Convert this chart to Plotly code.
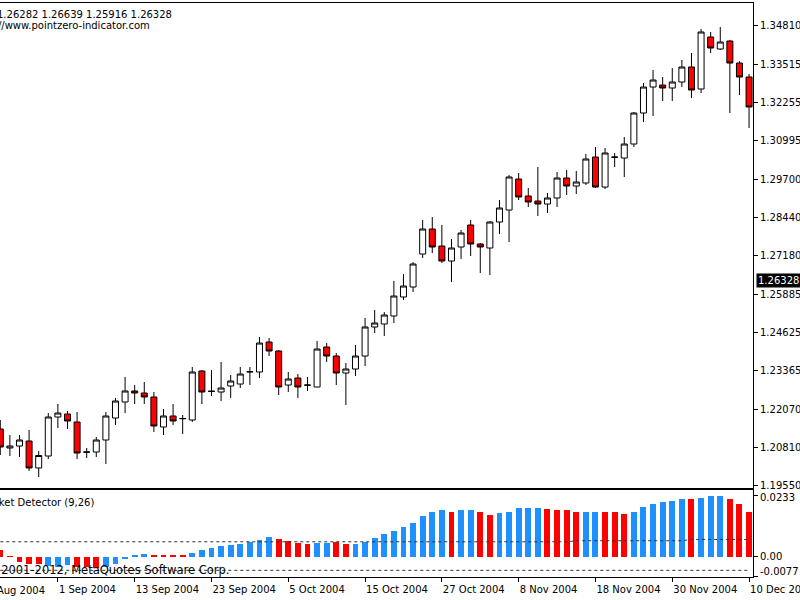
import plotly.graph_objects as go

# ---------------- data ----------------
bar_index = list(range(79))

opens = [1.21409, 1.20779, 1.20845, 1.21011, 1.20116, 1.20513, 1.21807, 1.21906, 1.21642, 1.20650,
         1.20646, 1.21044, 1.21774, 1.22305, 1.22670, 1.22603, 1.22471, 1.21476, 1.21840, 1.21758,
         1.21708, 1.23333, 1.22670, 1.22636, 1.22835, 1.22901, 1.23300, 1.23300, 1.24295, 1.23996,
         1.22868, 1.23101, 1.22860, 1.22802, 1.24129, 1.23830, 1.23266, 1.23399, 1.23830, 1.24793,
         1.24892, 1.25157, 1.25788, 1.26119, 1.27213, 1.28043, 1.27479, 1.26982, 1.27446, 1.28176,
         1.27546, 1.27413, 1.28275, 1.28673, 1.29702, 1.29138, 1.28972, 1.28872, 1.29072, 1.29735,
         1.29469, 1.29569, 1.30431, 1.29436, 1.30431, 1.30398, 1.30863, 1.31891, 1.32753, 1.32819,
         1.32720, 1.32919, 1.33417, 1.32687, 1.34412, 1.34014, 1.34279, 1.33549, 1.33085]
highs = [1.21708, 1.21210, 1.21210, 1.21376, 1.20679, 1.21939, 1.22238, 1.22006, 1.21973, 1.20779,
         1.21144, 1.21973, 1.22438, 1.23134, 1.22868, 1.22968, 1.22636, 1.22072, 1.22238, 1.21873,
         1.23466, 1.23366, 1.23366, 1.23632, 1.23200, 1.23466, 1.23466, 1.24461, 1.24428, 1.24029,
         1.23300, 1.23233, 1.23134, 1.24328, 1.24261, 1.23929, 1.23598, 1.24195, 1.25091, 1.25356,
         1.25290, 1.26318, 1.26550, 1.26948, 1.28342, 1.28441, 1.28176, 1.27711, 1.28010, 1.28342,
         1.27579, 1.28308, 1.29005, 1.29834, 1.29901, 1.29403, 1.30100, 1.29237, 1.29934, 1.30000,
         1.29967, 1.30531, 1.30763, 1.30730, 1.30564, 1.31095, 1.31924, 1.32886, 1.33317, 1.33085,
         1.33383, 1.33649, 1.33881, 1.34677, 1.34578, 1.34743, 1.34312, 1.33616, 1.33184]
lows = [1.20546, 1.20513, 1.20480, 1.20016, 1.19817, 1.20413, 1.21443, 1.21409, 1.20413, 1.20447,
        1.20480, 1.20248, 1.21542, 1.21939, 1.22238, 1.22238, 1.21310, 1.21210, 1.21542, 1.21243,
        1.21642, 1.22238, 1.22504, 1.22338, 1.22438, 1.22769, 1.22868, 1.23101, 1.23830, 1.22537,
        1.22636, 1.22438, 1.22670, 1.22790, 1.23632, 1.22868, 1.22205, 1.23167, 1.23499, 1.24593,
        1.24494, 1.24925, 1.25688, 1.25954, 1.27081, 1.27246, 1.26915, 1.26285, 1.27048, 1.27147,
        1.26584, 1.26517, 1.27877, 1.27612, 1.29005, 1.28773, 1.28474, 1.28574, 1.28773, 1.29171,
        1.29204, 1.29502, 1.29403, 1.29370, 1.30100, 1.29768, 1.30763, 1.31592, 1.31791, 1.32289,
        1.32289, 1.32753, 1.32389, 1.32554, 1.33881, 1.33980, 1.31891, 1.32488, 1.31393]
closes = [1.20812, 1.20845, 1.21044, 1.20116, 1.20530, 1.21807, 1.21939, 1.21675, 1.20612, 1.20640,
          1.21044, 1.21840, 1.22338, 1.22670, 1.22603, 1.22471, 1.21509, 1.21840, 1.21675, 1.21752,
          1.23300, 1.22636, 1.22654, 1.22769, 1.23001, 1.23233, 1.23310, 1.24261, 1.23996, 1.22802,
          1.23067, 1.22802, 1.22868, 1.24062, 1.23830, 1.23266, 1.23399, 1.23830, 1.24793, 1.24925,
          1.25190, 1.25821, 1.26152, 1.26882, 1.28043, 1.27446, 1.26982, 1.27413, 1.27910, 1.27546,
          1.27446, 1.28275, 1.28740, 1.29768, 1.29105, 1.28939, 1.28872, 1.29072, 1.29735, 1.29469,
          1.29602, 1.30365, 1.29436, 1.30564, 1.30425, 1.30863, 1.31891, 1.32753, 1.32985, 1.32720,
          1.32919, 1.33417, 1.32654, 1.34578, 1.34047, 1.34246, 1.33549, 1.33085, 1.32090]

detector = [0.0024, 0.0002, -0.0020, -0.0029, -0.0029, -0.0036, -0.0038, -0.0033, -0.0038, -0.0038,
            -0.0042, -0.0038, -0.0029, -0.0010, 0.0005, 0.0009, 0.0008, 0.0008, 0.0008, 0.0006,
            0.0013, 0.0025, 0.0034, 0.0041, 0.0045, 0.0050, 0.0056, 0.0065, 0.0074, 0.0069,
            0.0061, 0.0053, 0.0047, 0.0053, 0.0053, 0.0056, 0.0047, 0.0047, 0.0056, 0.0073,
            0.0085, 0.0098, 0.0112, 0.0127, 0.0155, 0.0172, 0.0177, 0.0172, 0.0177, 0.0177,
            0.0169, 0.0160, 0.0168, 0.0172, 0.0186, 0.0186, 0.0186, 0.0182, 0.0178, 0.0178,
            0.0172, 0.0172, 0.0172, 0.0169, 0.0169, 0.0164, 0.0172, 0.0191, 0.0200, 0.0209,
            0.0214, 0.0219, 0.0219, 0.0223, 0.0233, 0.0233, 0.0219, 0.0201, 0.0172]
detector_side = ["R", "R", "R", "R", "R", "B", "B", "B", "R", "R",
                 "R", "B", "B", "B", "B", "B", "R", "R", "R", "R",
                 "B", "B", "B", "B", "B", "B", "B", "B", "B", "R",
                 "R", "R", "R", "B", "B", "R", "R", "B", "B", "B",
                 "B", "B", "B", "B", "B", "B", "B", "R", "B", "B",
                 "R", "R", "B", "B", "B", "B", "B", "R", "R", "R",
                 "R", "B", "B", "R", "R", "R", "B", "B", "B", "B",
                 "B", "B", "R", "B", "B", "B", "R", "R", "R"]
upper_level = [
    0.0057, 0.0057, 0.0057, 0.0057, 0.0057, 0.0057, 0.0057, 0.0057, 0.0057, 0.0057,
    0.0057, 0.0057, 0.0057, 0.0057, 0.0057, 0.0057, 0.0057, 0.0057, 0.0057, 0.0057,
    0.0057, 0.0057, 0.0057, 0.0057, 0.0057, 0.0057, 0.0057, 0.0057, 0.0057, 0.0057,
    0.0057, 0.0057, 0.0057, 0.0057, 0.0057, 0.0057, 0.0057, 0.0057, 0.0057, 0.0057,
    0.0057, 0.0057, 0.0055, 0.0055, 0.0055, 0.0055, 0.0055, 0.0057, 0.0057, 0.0057,
    0.0057, 0.0057, 0.0057, 0.0057, 0.0057, 0.0057, 0.0057, 0.0057, 0.0057, 0.0057,
    0.0061, 0.0061, 0.0061, 0.0061, 0.0061, 0.0061, 0.0061, 0.0061, 0.0061, 0.0061,
    0.0061, 0.0061, 0.0066, 0.0066, 0.0066, 0.0066, 0.0066, 0.0066, 0.0066]
lower_level = [
    -0.0052, -0.0052, -0.0052, -0.0052, -0.0052, -0.0052, -0.0052, -0.0052, -0.0052, -0.0052,
    -0.0052, -0.0052, -0.0052, -0.0052, -0.0052, -0.0052, -0.0052, -0.0052, -0.0052, -0.0052,
    -0.0052, -0.0052, -0.0052, -0.0052, -0.0052, -0.0052, -0.0052, -0.0052, -0.0052, -0.0052,
    -0.0052, -0.0052, -0.0052, -0.0052, -0.0052, -0.0052, -0.0052, -0.0052, -0.0052, -0.0052,
    -0.0052, -0.0052, -0.0052, -0.0052, -0.0052, -0.0052, -0.0052, -0.0052, -0.0052, -0.0052,
    -0.0052, -0.0052, -0.0052, -0.0052, -0.0052, -0.0052, -0.0052, -0.0052, -0.0052, -0.0052,
    -0.0052, -0.0052, -0.0052, -0.0052, -0.0052, -0.0052, -0.0052, -0.0052, -0.0052, -0.0052,
    -0.0052, -0.0052, -0.0052, -0.0052, -0.0052, -0.0052, -0.0052, -0.0052, -0.0052]

date_tick_index = [6, 14, 22, 30, 38, 46, 54, 62, 70, 78]
date_tick_labels = ["1 Sep 2004", "13 Sep 2004", "23 Sep 2004", "5 Oct 2004", "15 Oct 2004",
                    "27 Oct 2004", "8 Nov 2004", "18 Nov 2004", "30 Nov 2004", "10 Dec 2004"]
first_date_index = -2
first_date_label = "20 Aug 2004"

price_ticks = ["1.34810", "1.33515", "1.32255", "1.30995", "1.29700", "1.28440", "1.27180",
               "1.25885", "1.24625", "1.23365", "1.22070", "1.20810", "1.19550"]
detector_ticks = ["0.0233", "0.00", "-0.0077"]
last_price = "1.26328"
ohlc_text = "1.26282 1.26639 1.25916 1.26328"
site_text = "http://www.pointzero-indicator.com"
indicator_name = "Market Detector (9,26)"
copyright_text = "\u00a9 2001-2012, MetaQuotes Software Corp."

# ---------------- figure ----------------
FONT = "DejaVu Sans"
BLUE = "#1E90FF"
RED = "#FF0000"
X_RANGE = [-0.03, 78.41]
Y_RANGE = [1.19452, 1.35540]
Y2_RANGE = [-0.00775, 0.02548]

fig = go.Figure()

fig.add_trace(go.Candlestick(
    x=bar_index, open=opens, high=highs, low=lows, close=closes,
    increasing=dict(line=dict(color="black", width=1), fillcolor="white"),
    decreasing=dict(line=dict(color="black", width=1), fillcolor=RED),
    whiskerwidth=0, showlegend=False, xaxis="x", yaxis="y", hoverinfo="skip"))

fig.add_trace(go.Bar(
    x=bar_index, y=detector,
    marker=dict(color=[BLUE if s == "B" else RED for s in detector_side], line=dict(width=0)),
    width=0.62, showlegend=False, xaxis="x2", yaxis="y2", hoverinfo="skip"))

for lvl in (upper_level, lower_level):
    fig.add_trace(go.Scatter(
        x=bar_index, y=lvl, mode="lines",
        line=dict(color="#303030", width=1, dash="3px,3px"),
        showlegend=False, xaxis="x2", yaxis="y2", hoverinfo="skip"))

W_PLOT = 753.0
H_PLOT = 574.0
main_bottom = (577 - 488) / H_PLOT
ind_top = (577 - 490) / H_PLOT

axis_common = dict(showgrid=False, zeroline=False, linecolor="black", linewidth=1,
                   automargin=False)
tfont = dict(family=FONT, size=10, color="black")

fig.update_layout(
    width=800, height=600,
    margin=dict(l=0, r=47, t=3, b=23, pad=0, autoexpand=False),
    paper_bgcolor="white", plot_bgcolor="white",
    font=dict(family=FONT, size=10, color="black"),
    boxgap=0.375, boxgroupgap=0,
    bargap=0,
    xaxis=dict(domain=[0, 1], anchor="y", range=X_RANGE, showticklabels=False,
               showline=True, mirror=True, ticks="", rangeslider=dict(visible=False),
               **axis_common),
    yaxis=dict(domain=[main_bottom, 1], anchor="x", side="right", range=Y_RANGE,
               tickvals=[float(t) for t in price_ticks], ticktext=price_ticks, tickfont=tfont,
               ticks="outside", ticklen=4, tickcolor="black", showline=True, **axis_common),
    xaxis2=dict(domain=[0, 1], anchor="y2", range=X_RANGE, matches="x",
                tickvals=date_tick_index, ticktext=date_tick_labels, tickfont=tfont,
                ticks="outside", ticklen=4, tickcolor="black", ticklabelstandoff=3,
                ticklabelposition="outside right", ticklabeloverflow="allow",
                showline=True, mirror=True, **axis_common),
    yaxis2=dict(domain=[0, ind_top], anchor="x2", side="right", range=Y2_RANGE,
                tickvals=[float(t) for t in detector_ticks], showticklabels=False,
                ticks="outside", ticklen=4, tickcolor="black", showline=True, **axis_common),
)

ann = []
# indicator axis labels
shifts = {"0.0233": -2, "0.00": 0, "-0.0077": 5}
for t in detector_ticks:
    ann.append(dict(xref="paper", yref="y2", x=1, y=float(t), text=t, xanchor="left",
                    yanchor="middle", showarrow=False, xshift=5, yshift=shifts[t], font=tfont))
# current price marker
ann.append(dict(xref="paper", yref="y", x=1, y=float(last_price), text=last_price,
                xanchor="left", yanchor="middle", showarrow=False, xshift=3,
                bgcolor="black", borderpad=1, font=dict(family=FONT, size=10, color="white")))
# first (cut) date label
first_px = (first_date_index - X_RANGE[0]) / (X_RANGE[1] - X_RANGE[0])
ann.append(dict(xref="paper", yref="paper", x=first_px, y=-13 / H_PLOT, text=first_date_label,
                xanchor="left", yanchor="middle", showarrow=False, xshift=-2, font=tfont))
# top-left texts
ann.append(dict(xref="paper", yref="paper", x=-5.5 / W_PLOT, y=1 - 11.5 / H_PLOT, text=ohlc_text,
                xanchor="left", yanchor="middle", showarrow=False, font=tfont))
ann.append(dict(xref="paper", yref="paper", x=-28 / W_PLOT, y=1 - 22.5 / H_PLOT, text=site_text,
                xanchor="left", yanchor="middle", showarrow=False, font=tfont))
ann.append(dict(xref="paper", yref="paper", x=96 / W_PLOT, y=(577 - 503) / H_PLOT, text=indicator_name,
                xanchor="right", yanchor="middle", showarrow=False, font=tfont))
ann.append(dict(xref="paper", yref="paper", x=231 / W_PLOT, y=(577 - 570) / H_PLOT, text=copyright_text,
                xanchor="right", yanchor="middle", showarrow=False,
                font=dict(family=FONT, size=11.5, color="black")))
fig.update_layout(annotations=ann)

fig.write_html("out.html")
